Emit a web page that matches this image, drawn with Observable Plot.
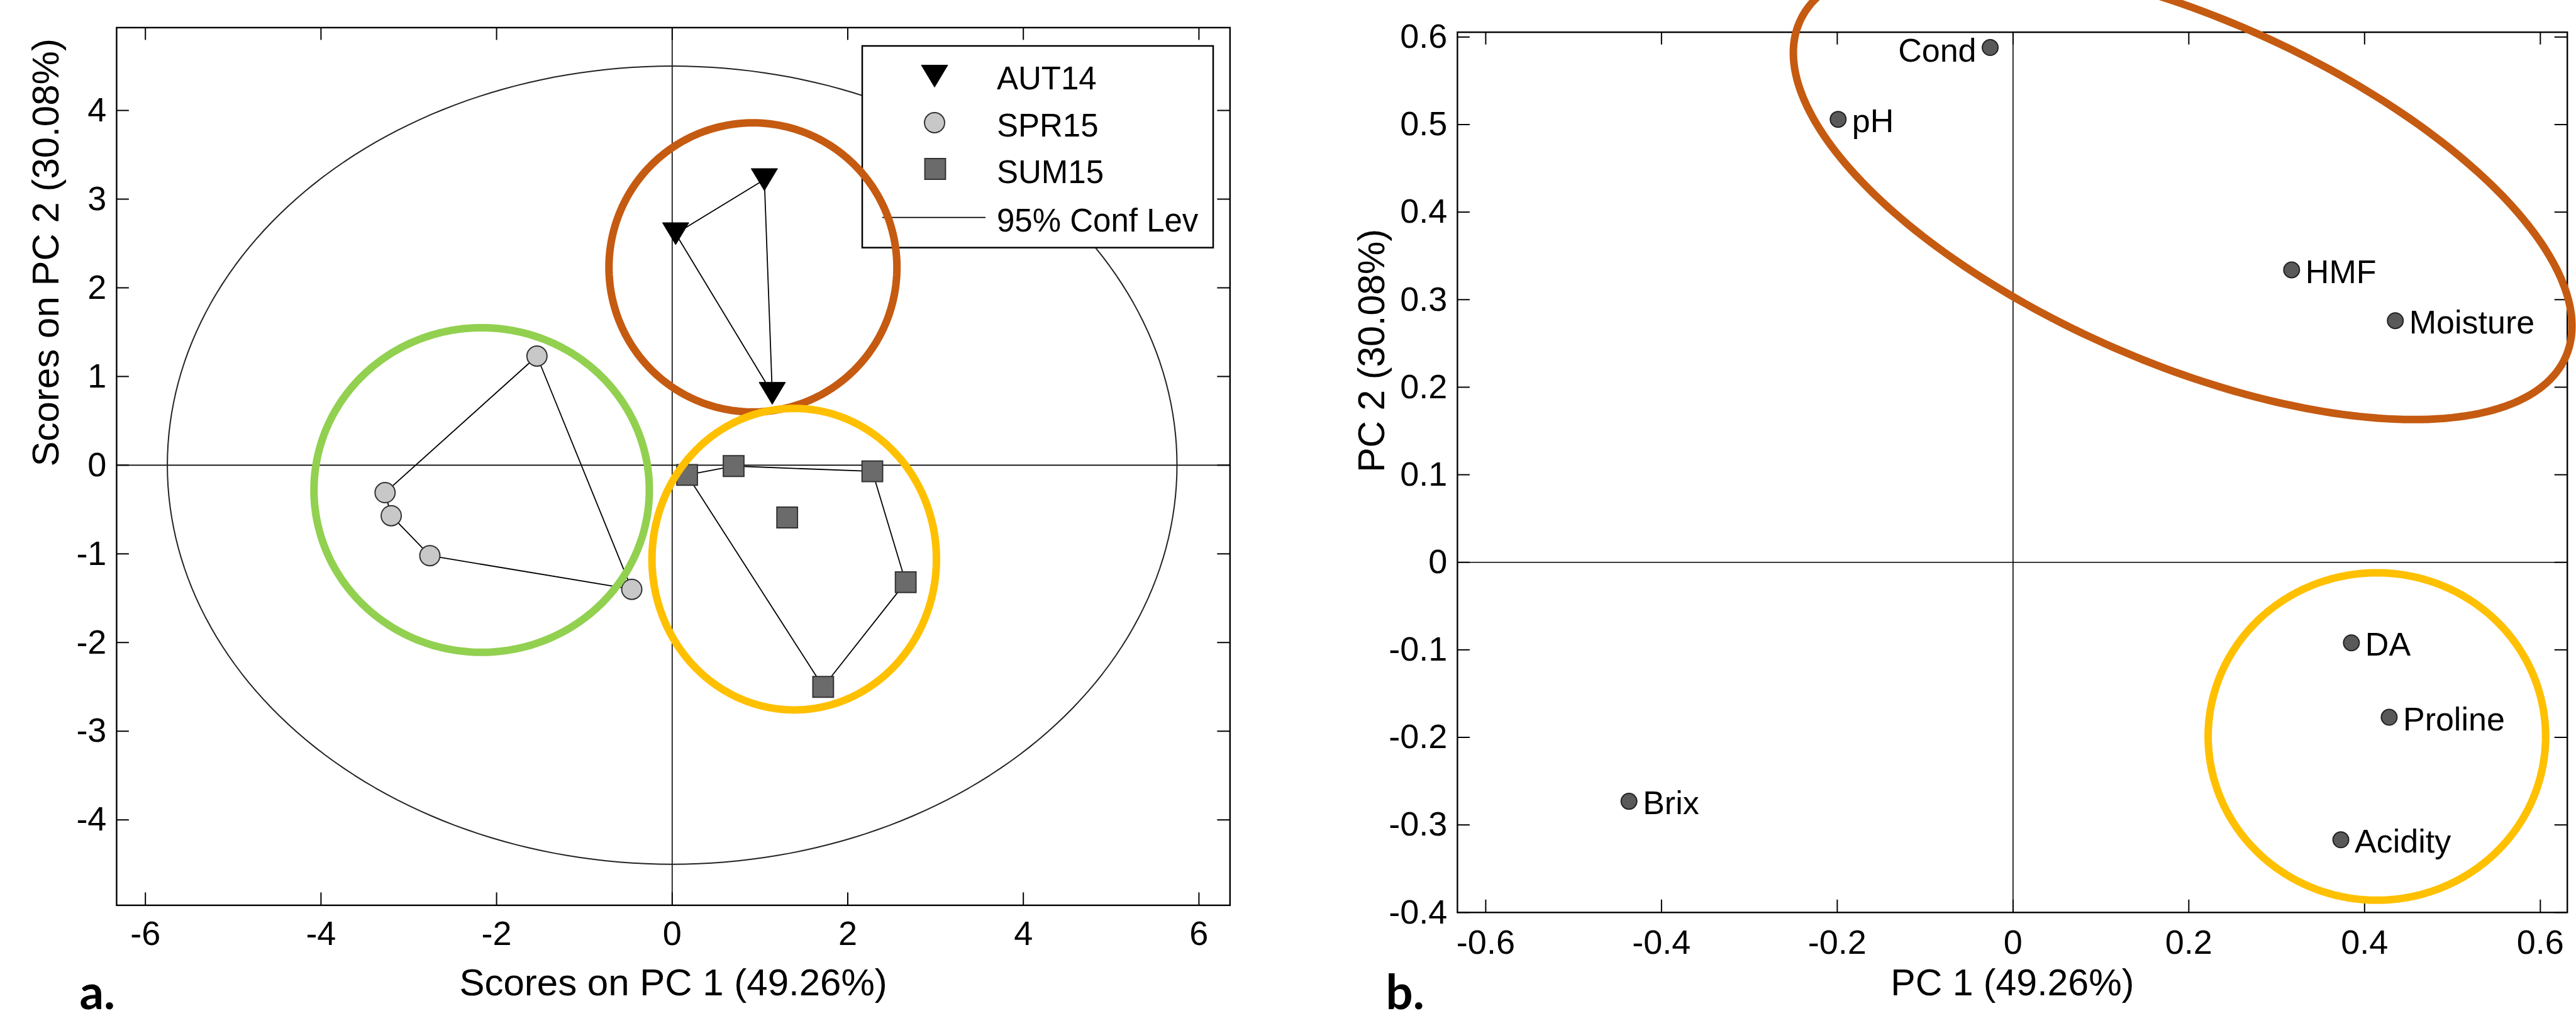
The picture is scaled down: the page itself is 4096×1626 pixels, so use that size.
<!DOCTYPE html>
<html><head><meta charset="utf-8">
<script src="https://cdn.jsdelivr.net/npm/d3@7"></script>
<script src="https://cdn.jsdelivr.net/npm/@observablehq/plot@0.6"></script>
<style>
html,body{margin:0;padding:0;background:#fff;}
#wrap{position:relative;width:4096px;height:1626px;overflow:hidden;background:#fff;}
#wrap svg{position:absolute;top:0;}
</style></head><body><div id="wrap"></div>
<script>
// ---------- Panel a: PCA scores ----------
const groupNames = ["AUT14", "SPR15", "SUM15"];
const confLabel = "95% Conf Lev";
const aut14X = [0.04, 1.05, 1.14];
const aut14Y = [2.61, 3.22, 0.81];
const spr15X = [-1.54, -3.27, -3.20, -2.76, -0.46];
const spr15Y = [1.23, -0.31, -0.57, -1.02, -1.40];
const sum15X = [0.17, 0.70, 2.28, 1.31, 2.66, 1.72];
const sum15Y = [-0.11, -0.01, -0.07, -0.59, -1.32, -2.50];
const confRadiusX = 5.75;
const confRadiusY = 4.50;
const scoreTicksX = [-6, -4, -2, 0, 2, 4, 6];
const scoreTicksY = [-4, -3, -2, -1, 0, 1, 2, 3, 4];
const scoreLabelX = "Scores on PC 1 (49.26%)";
const scoreLabelY = "Scores on PC 2 (30.08%)";
// highlight ellipses (panel a): brown, green, yellow
const hlACx = [0.92, -2.17, 1.39];
const hlACy = [2.23, -0.28, -1.06];
const hlARx = [1.64, 1.91, 1.62];
const hlARy = [1.63, 1.83, 1.70];

// ---------- Panel b: PCA loadings ----------
const varNames = ["Cond", "pH", "HMF", "Moisture", "DA", "Proline", "Brix", "Acidity"];
const loadPC1 = [-0.026, -0.199, 0.317, 0.435, 0.385, 0.428, -0.437, 0.373];
const loadPC2 = [0.588, 0.506, 0.334, 0.276, -0.092, -0.177, -0.273, -0.317];
const loadTicksX = [-0.6, -0.4, -0.2, 0, 0.2, 0.4, 0.6];
const loadTicksY = [-0.4, -0.3, -0.2, -0.1, 0, 0.1, 0.2, 0.3, 0.4, 0.5, 0.6];
const loadLabelX = "PC 1 (49.26%)";
const loadLabelY = "PC 2 (30.08%)";
// highlight ellipses (panel b): brown (rotated), yellow
const hlBCx = [0.193, 0.414];
const hlBCy = [0.426, -0.199];
const hlBRx = [0.476, 0.192];
const hlBRy = [0.197, 0.187];
const hlBRot = [-23.7, 0];
const panelLetters = ["a.", "b."];

// ---------- styles / layout ----------
const FONT = "'Liberation Sans', Arial, Helvetica, sans-serif";
const HL_A = ["#C55A11", "#92D050", "#FFC000"];
const HL_B = ["#C55A11", "#FFC000"];
const LA = {width: 2048, height: 1626, ml: 184.9, mr: 92.7, mt: 43.4, mb: 187.6, xd: [-6.328, 6.354], yd: [-4.963, 4.934]};
const LB = {width: 2048, height: 1626, ml: 268.9, mr: 14.3, mt: 50.7, mb: 176.2, xd: [-0.6322, 0.6307], yd: [-0.4, 0.6055]};

const triangleDown = {
  draw(context, size) {
    const r = Math.sqrt(size / Math.PI);
    const w = r * 1.2;
    context.moveTo(-w, -r);
    context.lineTo(w, -r);
    context.lineTo(0, r);
    context.closePath();
  }
};

function ellipse(cx, cy, rx, ry, rotDeg = 0, n = 240) {
  const t = rotDeg * Math.PI / 180, c = Math.cos(t), s = Math.sin(t);
  return d3.range(n + 1).map(i => {
    const a = 2 * Math.PI * i / n;
    const ex = rx * Math.cos(a), ey = ry * Math.sin(a);
    return {x: cx + ex * c - ey * s, y: cy + ex * s + ey * c};
  });
}
function hull(xs, ys) {
  const h = d3.polygonHull(xs.map((x, i) => [x, ys[i]]));
  return [...h, h[0]].map(([x, y]) => ({x, y}));
}
function pts(xs, ys) { return xs.map((x, i) => ({x, y: ys[i]})); }
function frameTicks(L, tx, ty, len = 20) {
  const px = (L.width - L.ml - L.mr) / (L.xd[1] - L.xd[0]);
  const py = (L.height - L.mt - L.mb) / (L.yd[1] - L.yd[0]);
  const lx = len / px, ly = len / py;
  const st = {stroke: "black", strokeWidth: 2};
  return [
    Plot.ruleX(tx, {x: d => d, y1: L.yd[0], y2: L.yd[0] + ly, ...st}),
    Plot.ruleX(tx, {x: d => d, y1: L.yd[1], y2: L.yd[1] - ly, ...st}),
    Plot.ruleY(ty, {y: d => d, x1: L.xd[0], x2: L.xd[0] + lx, ...st}),
    Plot.ruleY(ty, {y: d => d, x1: L.xd[1], x2: L.xd[1] - lx, ...st})
  ];
}
function base(L) {
  return {
    width: L.width, height: L.height,
    marginLeft: L.ml, marginRight: L.mr, marginTop: L.mt, marginBottom: L.mb,
    x: {domain: L.xd}, y: {domain: L.yd},
    style: {fontFamily: FONT, fontSize: "54px", background: "transparent", overflow: "visible", color: "black"}
  };
}
const fmt = d => String(d);

// ---------- Panel a ----------
const plotA = Plot.plot({
  ...base(LA),
  marks: [
    Plot.ruleX([0], {stroke: "black", strokeWidth: 1.6}),
    Plot.ruleY([0], {stroke: "black", strokeWidth: 1.6}),
    Plot.line(ellipse(0, 0, confRadiusX, confRadiusY), {x: "x", y: "y", stroke: "#222", strokeWidth: 2}),
    ...frameTicks(LA, scoreTicksX, scoreTicksY),
    Plot.frame({stroke: "black", strokeWidth: 2.4}),
    Plot.axisX({ticks: scoreTicksX, tickSize: 0, tickPadding: 25, tickFormat: fmt, fontSize: 54, label: null}),
    Plot.axisY({ticks: scoreTicksY, tickSize: 0, tickPadding: 16, tickFormat: fmt, fontSize: 54, label: null}),
    Plot.line(hull(aut14X, aut14Y), {x: "x", y: "y", stroke: "black", strokeWidth: 1.8}),
    Plot.line(hull(spr15X, spr15Y), {x: "x", y: "y", stroke: "black", strokeWidth: 1.8}),
    Plot.line(hull(sum15X, sum15Y), {x: "x", y: "y", stroke: "black", strokeWidth: 1.8}),
    Plot.dot(pts(spr15X, spr15Y), {x: "x", y: "y", r: 16, fill: "#c8c8c8", stroke: "#333", strokeWidth: 2}),
    Plot.dot(pts(sum15X, sum15Y), {x: "x", y: "y", symbol: "square", r: 18.5, fill: "#6b6b6b", stroke: "#333", strokeWidth: 2}),
    Plot.dot(pts(aut14X, aut14Y), {x: "x", y: "y", symbol: triangleDown, r: 17.5, fill: "black", stroke: "black", strokeWidth: 1}),
    Plot.text([scoreLabelX], {frameAnchor: "bottom", dy: 142.6, lineAnchor: "bottom", fontSize: 60}),
    Plot.text([scoreLabelY], {frameAnchor: "left", rotate: -90, dx: -91.9, lineAnchor: "bottom", fontSize: 60}),
    Plot.text([panelLetters[0]], {frameAnchor: "bottom-left", dx: -58.9, dy: 165, lineAnchor: "bottom", textAnchor: "start", fontSize: 76, fontWeight: "bold", fontFamily: "Lato, 'Open Sans', sans-serif"}),
    ...hlACx.map((cx, i) => Plot.line(ellipse(cx, hlACy[i], hlARx[i], hlARy[i]), {x: "x", y: "y", stroke: HL_A[i], strokeWidth: 12, className: "hl"}))
  ]
});
plotA.style.left = "0px";

// legend for panel a (drawn under highlight ellipses)
(function addLegend(svg) {
  const g = d3.create("svg:g").attr("class", "legend")
    .attr("font-family", FONT).attr("font-size", 51).attr("text-anchor", "start");
  g.append("rect").attr("x", 1371).attr("y", 73).attr("width", 558).attr("height", 320.6)
    .attr("fill", "white").attr("stroke", "black").attr("stroke-width", 2.5);
  g.append("path").attr("transform", "translate(1486,121)")
    .attr("d", d3.symbol(triangleDown, 17.5 * 17.5 * Math.PI)()).attr("fill", "black").attr("stroke", "black");
  g.append("circle").attr("cx", 1486).attr("cy", 195).attr("r", 16).attr("fill", "#c8c8c8").attr("stroke", "#333").attr("stroke-width", 2);
  g.append("path").attr("transform", "translate(1487,268.5)")
    .attr("d", d3.symbol(d3.symbolSquare, 18.5 * 18.5 * Math.PI)()).attr("fill", "#6b6b6b").attr("stroke", "#333").attr("stroke-width", 2);
  g.append("line").attr("x1", 1403).attr("x2", 1567).attr("y1", 345.7).attr("y2", 345.7).attr("stroke", "black").attr("stroke-width", 1.8);
  const labels = [...groupNames, confLabel];
  const baselines = [141.5, 217, 291, 368];
  labels.forEach((t, i) => g.append("text").attr("x", 1585).attr("y", baselines[i])
    .attr("fill", "black").attr("text-anchor", "start").text(t));
  let ref = svg.querySelector("g.hl");
  if (!ref) ref = svg.children[svg.children.length - hlACx.length];
  svg.insertBefore(g.node(), ref);
})(plotA);

// ---------- Panel b ----------
const idx = d3.range(varNames.length);
const plotB = Plot.plot({
  ...base(LB),
  marks: [
    Plot.ruleX([0], {stroke: "black", strokeWidth: 1.6}),
    Plot.ruleY([0], {stroke: "black", strokeWidth: 1.6}),
    ...frameTicks(LB, loadTicksX, loadTicksY),
    Plot.frame({stroke: "black", strokeWidth: 2.4}),
    Plot.axisX({ticks: loadTicksX, tickSize: 0, tickPadding: 27, tickFormat: fmt, fontSize: 54, label: null}),
    Plot.axisY({ticks: loadTicksY, tickSize: 0, tickPadding: 16, tickFormat: fmt, fontSize: 54, label: null}),
    Plot.dot(idx, {x: i => loadPC1[i], y: i => loadPC2[i], r: 12.5, fill: "#595959", stroke: "#222", strokeWidth: 2}),
    Plot.text(idx.filter(i => varNames[i] !== "Cond"), {x: i => loadPC1[i], y: i => loadPC2[i], text: i => varNames[i], textAnchor: "start", dx: 22, dy: 4, fontSize: 52}),
    Plot.text(idx.filter(i => varNames[i] === "Cond"), {x: i => loadPC1[i], y: i => loadPC2[i], text: i => varNames[i], textAnchor: "end", dx: -22, dy: 6, fontSize: 52}),
    Plot.text([loadLabelX], {frameAnchor: "bottom", dy: 131.2, lineAnchor: "bottom", fontSize: 59}),
    Plot.text([loadLabelY], {frameAnchor: "left", rotate: -90, dx: -116.9, lineAnchor: "bottom", fontSize: 59}),
    Plot.text([panelLetters[1]], {frameAnchor: "bottom-left", dx: -113.9, dy: 154, lineAnchor: "bottom", textAnchor: "start", fontSize: 76, fontWeight: "bold", fontFamily: "Lato, 'Open Sans', sans-serif"}),
    ...hlBCx.map((cx, i) => Plot.line(ellipse(cx, hlBCy[i], hlBRx[i], hlBRy[i], hlBRot[i]), {x: "x", y: "y", stroke: HL_B[i], strokeWidth: 12}))
  ]
});
plotB.style.left = "2048px";

const wrap = document.getElementById("wrap");
wrap.appendChild(plotA);
wrap.appendChild(plotB);
</script>
</body></html>
